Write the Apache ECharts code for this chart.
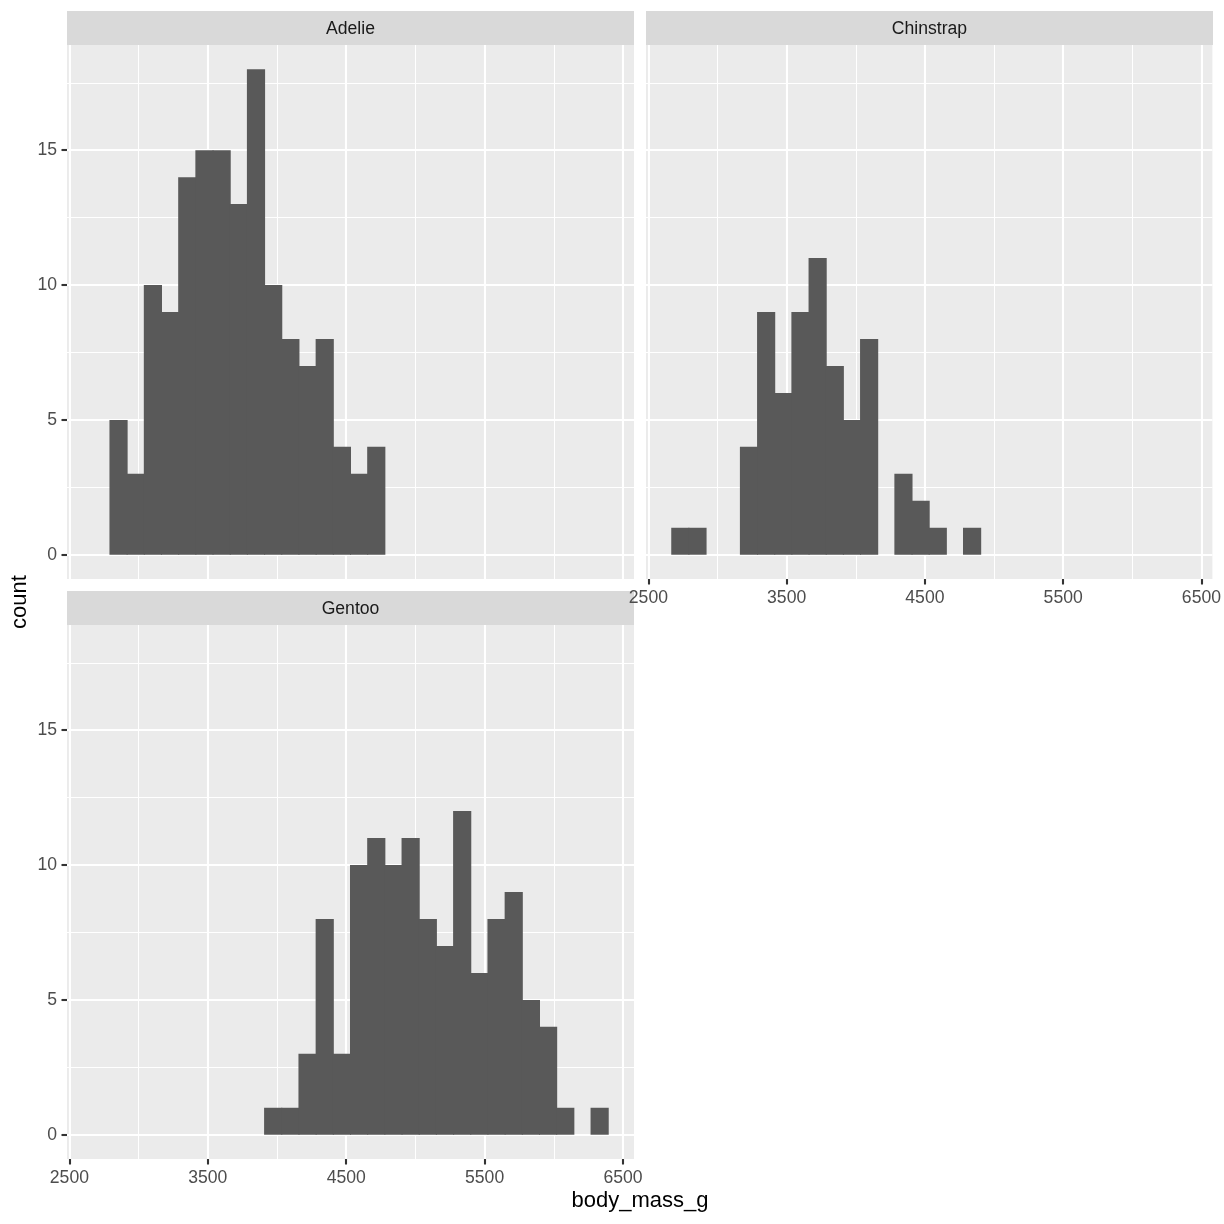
<!DOCTYPE html>
<html>
<head>
<meta charset="utf-8">
<script src="https://cdn.jsdelivr.net/npm/echarts@6/dist/echarts.min.js"></script>
<style>
html,body{margin:0;padding:0;background:#fff;}
#chart{width:1224px;height:1224px;}
</style>
</head>
<body>
<div id="chart"></div>
<script>
// ---- Data ----
const species = ['Adelie', 'Chinstrap', 'Gentoo'];
// Histogram: 30 bins spanning body_mass_g range 2700..6300 (ggplot default bins = 30)
const dataMin = 2700;
const dataMax = 6300;
const nBins = 30;
// counts per bin (bin 0 .. bin 29)
const adelieCounts    = [0,5,3,10,9,14,15,15,13,18,10,8,7,8,4,3,4,0,0,0,0,0,0,0,0,0,0,0,0,0];
const chinstrapCounts = [1,1,0,0,4,9,6,9,11,7,5,8,0,3,2,1,0,1,0,0,0,0,0,0,0,0,0,0,0,0];
const gentooCounts    = [0,0,0,0,0,0,0,0,0,0,1,1,3,8,3,10,11,10,11,8,7,12,6,8,9,5,4,1,0,1];
const xMajorTicks = [2500, 3500, 4500, 5500, 6500];
const xMinorTicks = [3000, 4000, 5000, 6000];
const yMajorTicks = [0, 5, 10, 15];
const yMinorTicks = [2.5, 7.5, 12.5, 17.5];
const xTitle = 'body_mass_g';
const yTitle = 'count';

// ---- Bin edges (ggplot2 bin_breaks_bins logic) ----
const bw = (dataMax - dataMin) / (nBins - 1);
const boundary = bw / 2;
const origin = boundary + Math.floor((dataMin - boundary) / bw) * bw;
function binItems(counts) {
  const out = [];
  counts.forEach((c, k) => { if (c > 0) out.push([origin + k * bw, origin + (k + 1) * bw, c]); });
  return out;
}
const xLo = origin, xHi = origin + nBins * bw;
const xPad = (xHi - xLo) * 0.05;
const xMin = xLo - xPad, xMax = xHi + xPad;
const yTop = Math.max(...adelieCounts, ...chinstrapCounts, ...gentooCounts);
const yMin = -yTop * 0.05, yMax = yTop * 1.05;

const FONT = "'Liberation Sans', Arial, Helvetica, sans-serif";
const panels = [
  { name: species[0], counts: adelieCounts,    left: 67,  top: 45,  showX: false, showY: true },
  { name: species[1], counts: chinstrapCounts, left: 646, top: 45,  showX: true,  showY: false },
  { name: species[2], counts: gentooCounts,    left: 67,  top: 625, showX: true,  showY: true }
];
const PW = 567, PH = 534, STRIP = 34;
const MAJ = 2.1, MIN = 1.05;
const plain = v => String(Math.round(v * 100) / 100);

const grid = [], xAxis = [], yAxis = [], series = [], graphic = [];
panels.forEach((p, i) => {
  grid.push({ left: p.left, top: p.top, width: PW, height: PH, show: true, backgroundColor: '#EBEBEB', borderWidth: 0 });
  // major x axis
  xAxis.push({
    type: 'value', gridIndex: i, min: xMin, max: xMax, position: 'bottom',
    axisLine: { show: false, onZero: false },
    axisTick: { show: p.showX, customValues: xMajorTicks, length: 5.5, lineStyle: { color: '#333333', width: MAJ } },
    axisLabel: { show: p.showX, customValues: xMajorTicks, formatter: plain, color: '#4D4D4D', fontSize: 17.6, fontFamily: FONT, margin: 10.5 },
    splitLine: { show: true, lineStyle: { color: '#FFFFFF', width: MAJ } },
    z: 1
  });
  // minor x gridlines
  xAxis.push({
    type: 'value', gridIndex: i, min: xMin, max: xMax, position: 'bottom',
    axisLine: { show: false, onZero: false },
    axisTick: { show: false, customValues: xMinorTicks },
    axisLabel: { show: false, customValues: xMinorTicks },
    splitLine: { show: true, lineStyle: { color: '#FFFFFF', width: MIN } },
    z: 0
  });
  yAxis.push({
    type: 'value', gridIndex: i, min: yMin, max: yMax, position: 'left',
    axisLine: { show: false, onZero: false },
    axisTick: { show: p.showY, customValues: yMajorTicks, length: 5.5, lineStyle: { color: '#333333', width: MAJ } },
    axisLabel: { show: p.showY, customValues: yMajorTicks, formatter: plain, color: '#4D4D4D', fontSize: 17.6, fontFamily: FONT, margin: 10 },
    splitLine: { show: true, lineStyle: { color: '#FFFFFF', width: MAJ } },
    z: 1
  });
  yAxis.push({
    type: 'value', gridIndex: i, min: yMin, max: yMax, position: 'left',
    axisLine: { show: false, onZero: false },
    axisTick: { show: false, customValues: yMinorTicks },
    axisLabel: { show: false, customValues: yMinorTicks },
    splitLine: { show: true, lineStyle: { color: '#FFFFFF', width: MIN } },
    z: 0
  });
  series.push({
    type: 'custom', name: p.name,
    xAxisIndex: i * 2, yAxisIndex: i * 2,
    data: binItems(p.counts),
    encode: { x: [0, 1], y: 2 },
    z: 5,
    silent: true,
    renderItem: function (params, api) {
      const a = api.coord([api.value(0), api.value(2)]);
      const b = api.coord([api.value(1), 0]);
      return {
        type: 'rect',
        shape: { x: a[0] - 0.5, y: a[1], width: b[0] - a[0] + 1.0, height: b[1] - a[1] },
        style: { fill: '#595959' }
      };
    }
  });
  // strip
  graphic.push({
    type: 'rect', left: p.left, top: p.top - STRIP,
    shape: { width: PW, height: STRIP }, style: { fill: '#D9D9D9' }, silent: true
  });
  graphic.push({
    type: 'text', x: p.left + PW / 2, y: p.top - STRIP / 2 + 1,
    style: { text: p.name, fill: '#1A1A1A', font: '17.6px ' + FONT, textAlign: 'center', textVerticalAlign: 'middle' },
    silent: true
  });
});
graphic.push({
  type: 'text', x: 640, y: 1201,
  style: { text: xTitle, fill: '#000000', font: '22px ' + FONT, textAlign: 'center', textVerticalAlign: 'middle' },
  silent: true
});
graphic.push({
  type: 'text', x: 20, y: 602, rotation: Math.PI / 2,
  style: { text: yTitle, fill: '#000000', font: '22px ' + FONT, textAlign: 'center', textVerticalAlign: 'middle' },
  silent: true
});

const chart = echarts.init(document.getElementById('chart'), null, { renderer: 'canvas' });
chart.setOption({
  animation: false,
  backgroundColor: '#FFFFFF',
  grid, xAxis, yAxis, series, graphic
});
</script>
</body>
</html>
